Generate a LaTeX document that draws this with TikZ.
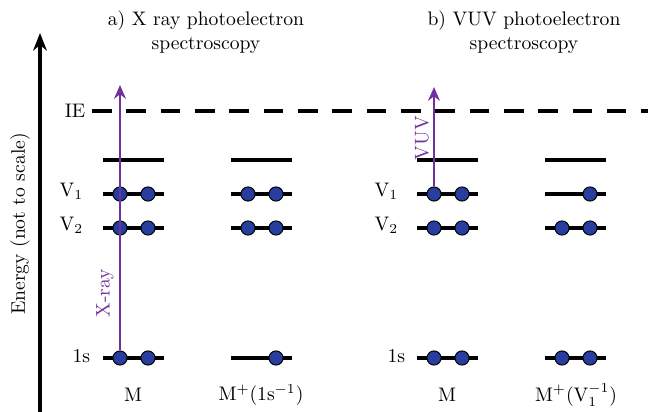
\documentclass[tikz,border=0pt]{standalone}
\usetikzlibrary{arrows.meta}
\definecolor{elec}{RGB}{40,62,158}
\definecolor{ray}{RGB}{112,48,160}
\begin{document}
\begin{tikzpicture}[x=0.51pt, y=-0.51pt,
  level/.style={line width=1.8pt},
  electron/.style={circle, draw=black, fill=elec, line width=0.5pt, inner sep=0pt, minimum size=7.2pt},
  photon/.style={ray, line width=1.3pt, -{Stealth[length=7pt,width=6pt]}}]
  \useasboundingbox (0,0) rectangle (648,412);
  % energy axis
  \coordinate (ebot) at (40,412); \coordinate (etop) at (40,33);
  \draw[line width=1.6pt, -{Stealth[length=9pt,width=7pt]}] (ebot) -- (etop);
  \node[rotate=90] (elabel) at (20,224) {Energy (not to scale)};
  % titles
  \node[align=center] (ta) at (206,32) {a) X ray photoelectron\\spectroscopy};
  \node[align=center] (tb) at (524,32) {b) VUV photoelectron\\spectroscopy};
  % ionisation energy
  \node (ie) at (75,111) {IE}; \coordinate (ieend) at (652,111);
  \draw[level, dash pattern=on 10pt off 7.5pt] (ie.east) -- (ieend);
  % levels
  \foreach \x in {103,231,417,545}
    \foreach \y in {160,194,228,358} \draw[level] (\x,\y) -- ++(61,0);
  \node[anchor=east] (av1) at (90,191) {V$_1$}; \node[anchor=east] (av2) at (90,225) {V$_2$};
  \node[anchor=east] (as) at (97,356) {1s};
  \node[anchor=east] (bv1) at (405,191) {V$_1$}; \node[anchor=east] (bv2) at (405,225) {V$_2$};
  \node[anchor=east] (bs) at (412,356) {1s};
  % electrons
  \foreach \x/\y/\n in {120/194/av1, 120/228/av2, 120/358/as, 248/194/bv1, 248/228/bv2,
      434/194/cv1, 434/228/cv2, 434/358/cs, 562/228/dv2, 562/358/ds}
    \node[electron] (\n-l) at (\x,\y) {};
  \foreach \x/\c in {148/a,276/b,462/c,590/d}
    \foreach \y/\l in {194/v1,228/v2,358/s} \node[electron] (\c\l-r) at (\x,\y) {};
  % photons
  \coordinate (xtop) at (120,85); \coordinate (vtop) at (434,87);
  \draw[photon] (as-l) -- (xtop); \node[ray, rotate=90] (xlabel) at (105,293) {X-ray};
  \draw[photon] (cv1-l) -- (vtop); \node[ray, rotate=90] (vlabel) at (422,138) {VUV};
  % states
  \node (ma) at (133,395) {M}; \node (mpa) at (261,395) {M$^+$(1s$^{-1}$)};
  \node (mb) at (447,395) {M}; \node (mpb) at (576,395) {M$^+$(V$_1^{-1}$)};
\end{tikzpicture}
\end{document}
